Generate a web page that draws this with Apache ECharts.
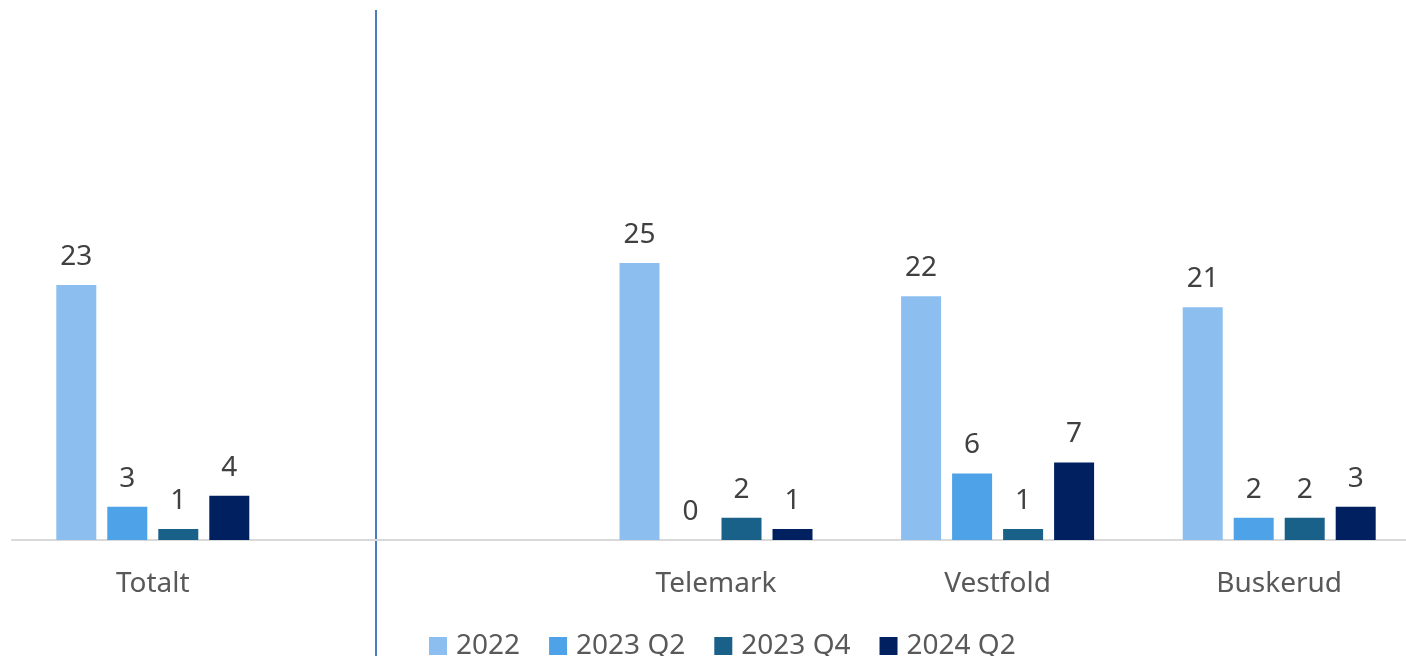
<!DOCTYPE html>
<html>
<head>
<meta charset="utf-8">
<script src="https://cdn.jsdelivr.net/npm/echarts@6/dist/echarts.min.js"></script>
<style>
html, body { margin: 0; padding: 0; background: #fff; }
#chart { width: 1406px; height: 656px; }
</style>
</head>
<body>
<div id="chart"></div>
<script>
// kategorier (tom plass mellom Totalt og fylkene)
var regions = ['Totalt', '', 'Telemark', 'Vestfold', 'Buskerud'];
var seriesNames = ['2022', '2023 Q2', '2023 Q4', '2024 Q2'];
var v2022 = [23, null, 25, 22, 21];
var v2023q2 = [3, null, 0, 6, 2];
var v2023q4 = [1, null, 2, 1, 2];
var v2024q2 = [4, null, 1, 7, 3];
var colors = ['#8CBFF0', '#4EA2E8', '#1A6189', '#002060'];

var myChart = echarts.init(document.getElementById('chart'));

function bar(name, data, color) {
    return {
        name: name,
        type: 'bar',
        data: data,
        barWidth: 40,
        barGap: '27.5%',
        itemStyle: { color: color },
        label: {
            show: true,
            position: 'top',
            distance: 14,
            color: '#404040',
            fontSize: 28,
            fontFamily: 'Noto Sans'
        }
    };
}

var option = {
    animation: false,
    grid: { left: 12, right: -14, top: 8, bottom: 116, containLabel: false, outerBoundsMode: 'none' },
    legend: {
        data: seriesNames,
        top: 627,
        left: 424,
        itemWidth: 18,
        itemHeight: 18,
        itemGap: 29,
        icon: 'rect',
        textStyle: { fontSize: 28, color: '#595959', fontFamily: 'Noto Sans', padding: [0, 0, 0, 4] }
    },
    xAxis: {
        type: 'category',
        data: regions,
        axisLine: { lineStyle: { color: '#D9D9D9', width: 2 } },
        axisTick: { show: false },
        axisLabel: { margin: 30, fontSize: 28, color: '#595959', fontFamily: 'Noto Sans' }
    },
    yAxis: {
        type: 'value',
        min: 0,
        max: 48,
        show: false
    },
    graphic: [{
        type: 'line',
        shape: { x1: 376, y1: 10, x2: 376, y2: 656 },
        style: { stroke: '#4A7EBB', lineWidth: 2 }
    }],
    series: [
        bar(seriesNames[0], v2022, colors[0]),
        bar(seriesNames[1], v2023q2, colors[1]),
        bar(seriesNames[2], v2023q4, colors[2]),
        bar(seriesNames[3], v2024q2, colors[3])
    ]
};
myChart.setOption(option);
</script>
</body>
</html>
